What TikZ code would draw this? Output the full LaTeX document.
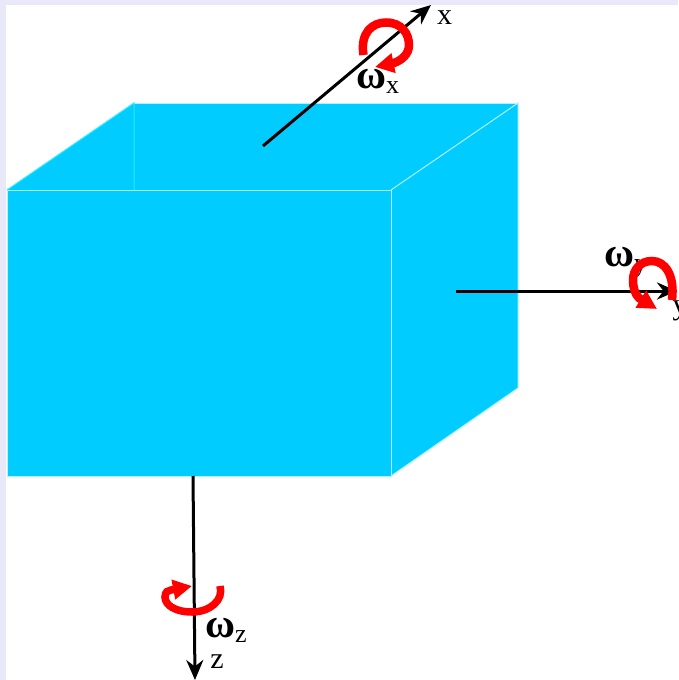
\documentclass[tikz,border=0pt]{standalone}
\usepackage{fontspec}
\setmainfont{Liberation Serif}
\usetikzlibrary{arrows.meta}
\definecolor{slide}{HTML}{E8E8F9}
\definecolor{cubeblue}{HTML}{00CCFF}
\definecolor{edgeblue}{HTML}{B0F2FF}
\definecolor{edgecyan}{HTML}{22EEFF}
\definecolor{spin}{HTML}{FF0000}
\newcommand{\omegasub}[1]{\textbf{ω}\raisebox{-5pt}{\fontsize{26}{26}\selectfont #1}}
\begin{document}
\begin{tikzpicture}[x=1pt,y=-1pt,
  axisline/.style={-{Stealth[length=20pt,width=17pt]},line width=3pt,black},
  spinline/.style={-{Triangle[length=19pt,width=19pt]},line width=8.5pt,spin},
  axislabel/.style={font=\fontsize{30}{30}\selectfont,inner sep=0pt,anchor=base},
  omegalabel/.style={font=\fontsize{41}{41}\selectfont,inner sep=0pt,anchor=base west}]
\useasboundingbox (0,0) rectangle (678,680);
\fill[slide] (0,0) rectangle (678,680);
\fill[white] (6,5) rectangle (678,680);
% cube
\coordinate (fronttl) at (7,190);\coordinate (fronttr) at (391,190);\coordinate (frontbr) at (391,476);\coordinate (frontbl) at (7,476);
\coordinate (backtl) at (134,103);\coordinate (backtr) at (518,103);\coordinate (backbr) at (518,388);
\fill[cubeblue] (fronttl)--(backtl)--(backtr)--(backbr)--(frontbr)--(frontbl)--cycle;
\draw[edgeblue,line width=1pt] (frontbl)--(fronttl)--(fronttr)--(frontbr)--(frontbl);
\draw[edgeblue,line width=1pt] (fronttr)--(backtr)--(backbr)--(frontbr);
\draw[edgeblue,line width=1pt] (backtr)--(backtl);
\draw[edgecyan,line width=1pt] (fronttl)--(backtl)--(134,190);
% axes
\coordinate (xstart) at (263,146);\coordinate (xend) at (431,5);
\coordinate (ystart) at (456,291);\coordinate (yend) at (677,291);
\coordinate (zstart) at (193,476);\coordinate (zend) at (195,680);
\draw[axisline] (xstart)--(xend);
\draw[axisline] (ystart)--(yend);
\draw[axisline] (zstart)--(zend);
% labels
\node[axislabel] (xlabel) at (444.5,24){x};
\node[axislabel] (ylabel) at (680,314){y};
\node[axislabel] (zlabel) at (217,668){z};
\node[omegalabel] (omegax) at (356,88){\omegasub{x}};
\node[omegalabel] (omegay) at (604,266){\omegasub{y}};
\node[omegalabel] (omegaz) at (205,637){\omegasub{z}};
% rotation arrows
\draw[spinline] (363.5,55) .. controls (360,33) and (372,22.5) .. (386,22.5) .. controls (402,22.5) and (409,34) .. (409,45) .. controls (409,54) and (402,60) .. (394,63) -- (375,67);
\draw[spinline] (672,300) .. controls (675,275) and (665,261) .. (652,261) .. controls (640,261) and (633,270) .. (633,280) .. controls (633,288) and (635,294) .. (639,298) -- (657,309);
\draw[spinline,line width=7.5pt] (220,586) .. controls (224,600) and (210,612) .. (192,612) .. controls (175,612) and (165,605) .. (165,597) .. controls (165,592) and (168,590) .. (171,590) -- (192,586);
\end{tikzpicture}
\end{document}
